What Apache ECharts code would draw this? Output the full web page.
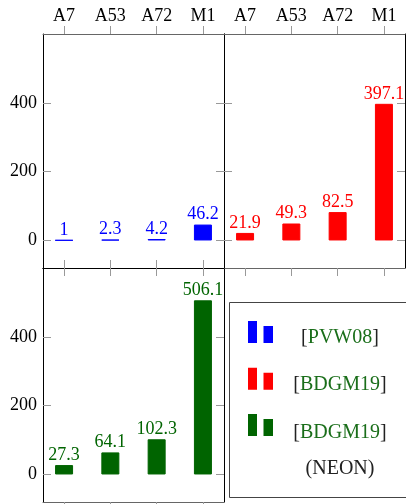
<!DOCTYPE html>
<html>
<head>
<meta charset="utf-8">
<script src="https://cdn.jsdelivr.net/npm/echarts@6/dist/echarts.min.js"></script>
<style>html,body{margin:0;padding:0;background:#fff;}#chart{width:406px;height:504px;}</style>
</head>
<body>
<div id="chart"></div>
<script>
const categories = ['A7', 'A53', 'A72', 'M1'];
const pvw08 = [1, 2.3, 4.2, 46.2];
const bdgm19 = [21.9, 49.3, 82.5, 397.1];
const bdgm19Neon = [27.3, 64.1, 102.3, 506.1];
const yTicks = [0, 200, 400];
const seriesNames = ['PVW08', 'BDGM19', 'BDGM19 (NEON)'];

const FONT = '"Liberation Serif", "Times New Roman", serif';
const BLUE = '#0000ff', RED = '#ff0000', GREEN = '#006400';
const xTicks = categories.map((c, i) => i);

const chart = echarts.init(document.getElementById('chart'), null, {renderer: 'canvas'});

const grids = [
  {left: 43, top: 34, width: 181, height: 234},
  {left: 224, top: 34, width: 181, height: 234},
  {left: 43, top: 268, width: 181, height: 234}
];

function xAxis(g, pos, showLabel, lineColor) {
  return {
    type: 'value', gridIndex: g, position: pos, min: -0.455, max: 3.455,
    splitLine: {show: false},
    axisLine: {show: true, onZero: false, lineStyle: {color: lineColor, width: 1}},
    axisTick: {show: true, customValues: xTicks, inside: false, length: 8, lineStyle: {color: '#999', width: 1}},
    axisLabel: {show: showLabel, customValues: xTicks, formatter: v => categories[v] || '', margin: 9,
      fontSize: 18, color: '#000', fontFamily: FONT}
  };
}
function yAxis(g, pos, showLabel, lineColor) {
  return {
    type: 'value', gridIndex: g, position: pos, min: -80, max: 600,
    splitLine: {show: false},
    axisLine: {show: true, onZero: false, lineStyle: {color: lineColor, width: 1}},
    axisTick: {show: true, customValues: yTicks, inside: true, length: 8, lineStyle: {color: '#999', width: 1}},
    axisLabel: {show: showLabel, customValues: yTicks, margin: 6,
      fontSize: 18, color: '#000', fontFamily: FONT}
  };
}

const xAxes = [
  xAxis(0, 'top', true, '#666'), xAxis(0, 'bottom', false, '#000'),
  xAxis(1, 'top', true, '#666'), xAxis(1, 'bottom', false, '#666'),
  xAxis(2, 'top', false, '#000'), xAxis(2, 'bottom', false, '#666')
];
const yAxes = [
  yAxis(0, 'left', true, '#000'), yAxis(0, 'right', false, '#000'),
  yAxis(1, 'left', false, '#000'), yAxis(1, 'right', false, '#000'),
  yAxis(2, 'left', true, '#000'), yAxis(2, 'right', false, '#000')
];

function barSeries(name, values, color, g) {
  return {
    type: 'bar', name: name, xAxisIndex: g * 2, yAxisIndex: g * 2,
    data: values.map((v, i) => [i, v]),
    barWidth: 18,
    itemStyle: {color: color, borderColor: color, borderWidth: 1},
    label: {show: true, position: 'top', distance: 1, color: color, fontSize: 18, fontFamily: FONT,
      formatter: p => String(p.value[1])},
    emphasis: {disabled: true}
  };
}

const legendIcon = 'path://M0,0H9V22H0Z M15.5,5H25V22H15.5Z';
const richBase = {fontSize: 20, fontFamily: FONT, align: 'center'};
function legendCfg(name, top, lineHeight, padTop, text) {
  return {
    data: [name], left: 248, top: top, padding: 0, orient: 'vertical',
    icon: legendIcon, itemWidth: 25, itemHeight: 22, selectedMode: false,
    itemStyle: {borderWidth: 0},
    formatter: () => text,
    textStyle: {width: 124, padding: [padTop, 0, 0, 0],
      rich: {
        k: Object.assign({color: '#222', lineHeight: lineHeight}, richBase),
        g: Object.assign({color: '#1a6e1a', lineHeight: lineHeight}, richBase)
      }}
  };
}

const option = {
  animation: false,
  backgroundColor: '#fff',
  grid: grids.map(g => Object.assign({show: false}, g)),
  xAxis: xAxes,
  yAxis: yAxes,
  legend: [
    legendCfg(seriesNames[0], 321, 20, 12, '{k|[}{g|PVW08}{k|]}'),
    legendCfg(seriesNames[1], 367.7, 20, 12, '{k|[}{g|BDGM19}{k|]}'),
    legendCfg(seriesNames[2], 414, 36, 51, '{k|[}{g|BDGM19}{k|]}\n{k|(NEON)}')
  ],
  graphic: [{
    type: 'rect', silent: true,
    shape: {x: 229.5, y: 302.5, width: 200, height: 195},
    style: {fill: 'none', stroke: '#444', lineWidth: 1}
  }],
  series: [
    barSeries(seriesNames[0], pvw08, BLUE, 0),
    barSeries(seriesNames[1], bdgm19, RED, 1),
    barSeries(seriesNames[2], bdgm19Neon, GREEN, 2)
  ]
};
chart.setOption(option);
</script>
</body>
</html>
